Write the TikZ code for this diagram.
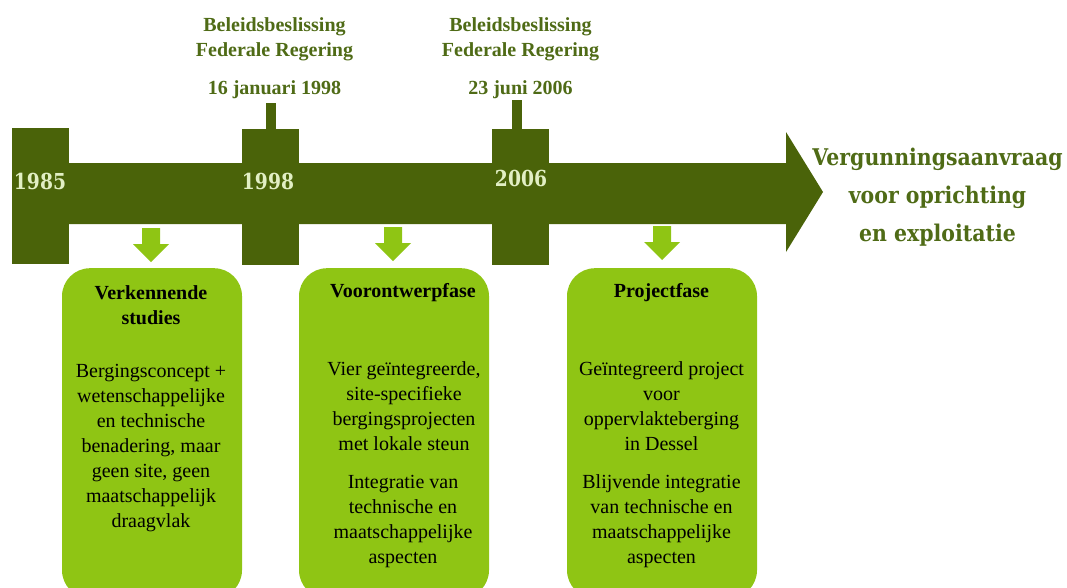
\documentclass[tikz,border=0pt]{standalone}
\usepackage{fontspec}
\setmainfont{Liberation Serif}
\newfontfamily\headfont{DejaVu Serif}[FakeStretch=0.85]
\newfontfamily\goalfont{DejaVu Serif}[FakeStretch=0.89]
\definecolor{barGreen}{HTML}{4A6309}
\definecolor{limeGreen}{HTML}{8FC514}
\definecolor{labelGreen}{HTML}{4F6B16}
\definecolor{yearText}{HTML}{E2EFC4}
\tikzset{
  bar/.style={fill=barGreen, draw=none},
  block/.style={fill=barGreen, inner sep=0pt, minimum width=57pt, minimum height=136pt},
  phase/.style={fill=limeGreen, rounded corners=28pt, inner sep=0pt, minimum height=330pt, anchor=north},
  year/.style={font=\headfont\bfseries\fontsize{22}{26}\selectfont, text=yearText, inner sep=0pt, anchor=base},
  decision/.style={font=\bfseries\fontsize{20}{25}\selectfont, text=labelGreen, align=center, inner sep=0pt, anchor=north},
  goal/.style={font=\goalfont\bfseries\fontsize{23}{38}\selectfont, text=labelGreen, align=center, inner sep=0pt, anchor=north},
  phasetitle/.style={font=\bfseries\fontsize{20}{25}\selectfont, align=center, inner sep=0pt, anchor=north},
  phasetext/.style={font=\fontsize{20}{25}\selectfont, align=center, inner sep=0pt, anchor=north},
  stem/.style={draw=barGreen, line width=10pt},
  downarrow/.pic={\fill[limeGreen] (-9,0) -- (9,0) -- (9,16) -- (18,16) -- (0,34) -- (-18,16) -- (-9,16) -- cycle;}
}
\begin{document}
\begin{tikzpicture}[x=1pt,y=-1pt]
\useasboundingbox (0,0) rectangle (1067,587);

% timeline bar with arrow head
\fill[bar] (12,163) -- (786,163) -- (786,132) -- (823,192) -- (786,252) -- (786,224) -- (12,224) -- cycle;

% milestone blocks
\node[block] (b1985) at (40.5,196) {};
\node[block] (b1998) at (270.5,197) {};
\node[block] (b2006) at (520.5,197) {};

% stems towards the decisions
\coordinate (s1998) at (271,103);
\coordinate (s2006) at (517,100);
\draw[stem] ([xshift=0.5pt]b1998.north) -- (s1998);
\draw[stem] ([xshift=-3.5pt]b2006.north) -- (s2006);

% years
\node[year] (y1985) at (40,189.3) {1985};
\node[year] (y1998) at (268,189.5) {1998};
\node[year] (y2006) at (521,186.7) {2006};

% policy decisions
\node[decision] (d1) at (274.5,13.5) {\strut Beleidsbeslissing\\Federale Regering};
\node[decision, anchor=base] (d1date) at (274.5,94) {16 januari 1998};
\node[decision] (d2) at (520.5,13.5) {\strut Beleidsbeslissing\\Federale Regering};
\node[decision, anchor=base] (d2date) at (520.5,94) {23 juni 2006};

% final goal
\node[goal] (goal) at (937.5,138.4) {\strut Vergunningsaanvraag\\voor oprichting\\en exploitatie};

% arrows down to the phases
\pic at (151,228) {downarrow};
\pic at (393,227) {downarrow};
\pic at (662,226) {downarrow};

% phases
\node[phase, minimum width=180pt] (p1) at (152,268) {};
\node[phase, minimum width=190pt] (p2) at (394,268) {};
\node[phase, minimum width=190pt] (p3) at (662,268) {};

\node[phasetitle] (p1t) at (151,281.5) {\strut Verkennende\\studies};
\node[phasetext] (p1a) at (151,359.5) {\strut Bergingsconcept +\\wetenschappelijke\\en technische\\benadering, maar\\geen site, geen\\maatschappelijk\\draagvlak};

\node[phasetitle] (p2t) at (403,279.5) {\strut Voorontwerpfase};
\node[phasetext] (p2a) at (404,357.5) {\strut Vier geïntegreerde,\\site-specifieke\\bergingsprojecten\\met lokale steun};
\node[phasetext] (p2b) at (403,470.5) {\strut Integratie van\\technische en\\maatschappelijke\\aspecten};

\node[phasetitle] (p3t) at (661.5,279.5) {\strut Projectfase};
\node[phasetext] (p3a) at (661.5,357.5) {\strut Geïntegreerd project\\voor\\oppervlakteberging\\in Dessel};
\node[phasetext] (p3b) at (661.5,470.5) {\strut Blijvende integratie\\van technische en\\maatschappelijke\\aspecten};
\end{tikzpicture}
\end{document}
